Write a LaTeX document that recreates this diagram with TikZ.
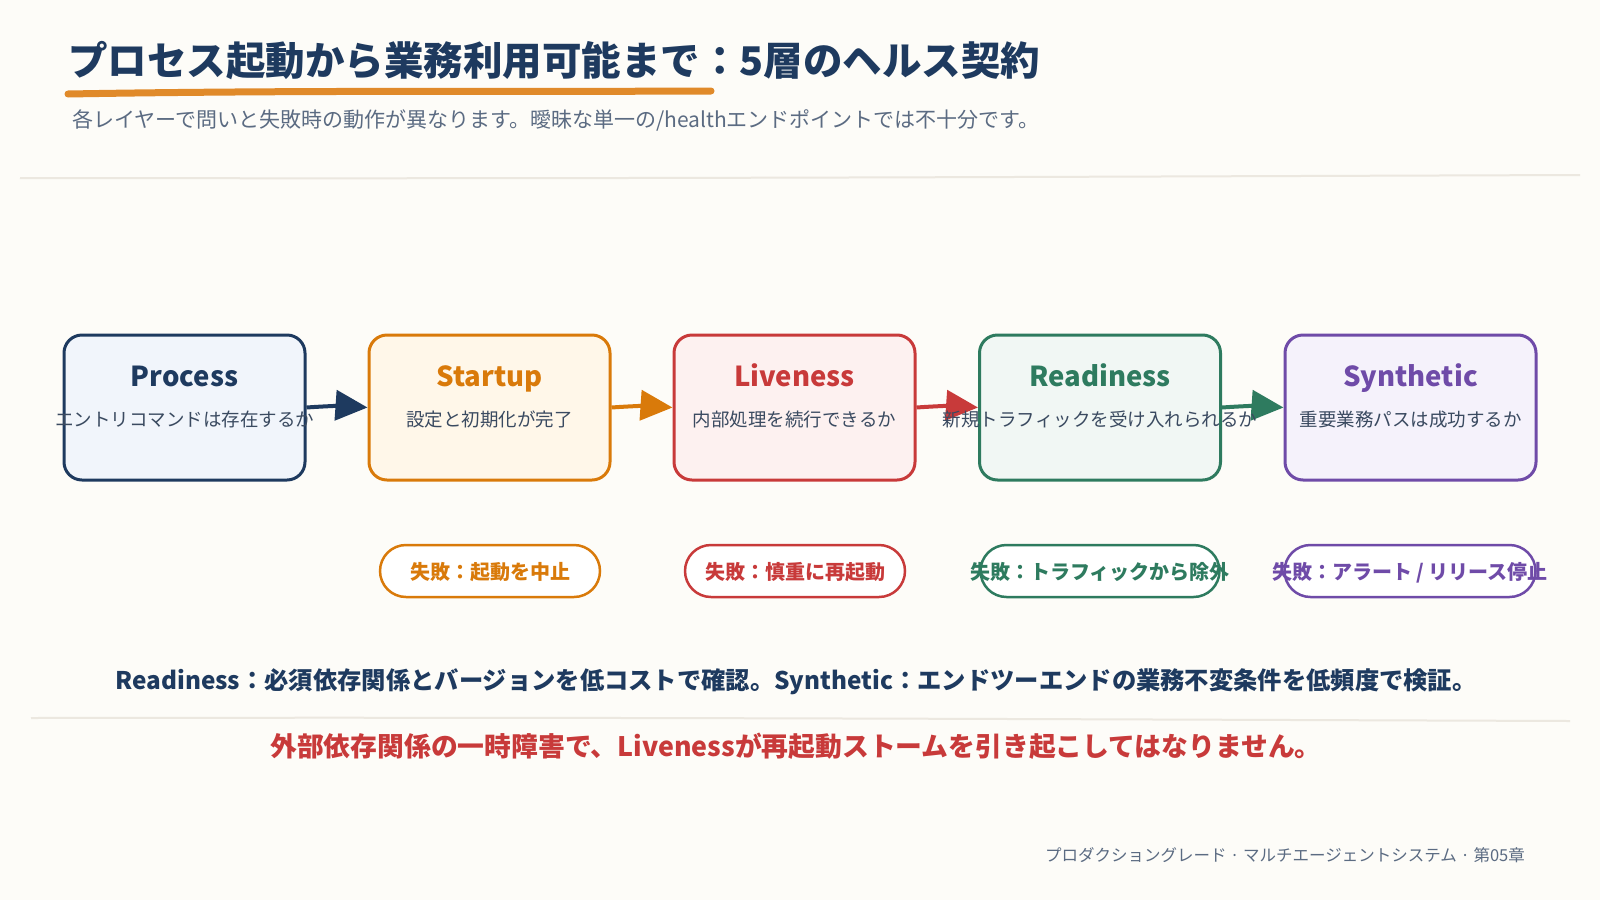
\documentclass[tikz,border=0pt]{standalone}
\usepackage{fontspec}
\setmainfont{Noto Sans CJK JP}
\usetikzlibrary{arrows.meta}
\definecolor{bg}{HTML}{FDFCF8}
\definecolor{navy}{HTML}{1E3A5F}
\definecolor{orng}{HTML}{D97A0A}
\definecolor{uline}{HTML}{E08A2A}
\definecolor{rred}{HTML}{C83A3A}
\definecolor{grn}{HTML}{2E7B5F}
\definecolor{purp}{HTML}{6F4BA8}
\definecolor{slate}{HTML}{5B6B82}
\definecolor{subtxt}{HTML}{3A4A60}
\definecolor{sepc}{HTML}{ECE8E0}
\definecolor{fproc}{HTML}{F1F5FB}
\definecolor{fstart}{HTML}{FFF7E9}
\definecolor{flive}{HTML}{FDF1F0}
\definecolor{fready}{HTML}{F1F7F4}
\definecolor{fsyn}{HTML}{F5F2FB}
\tikzset{
  box/.style={draw, line width=3pt, rounded corners=18pt, minimum height=145pt, inner sep=0pt},
  btitle/.style={font=\bfseries\fontsize{27.5}{30}\selectfont, text height=20pt, text depth=6pt, inner sep=0pt},
  bsub/.style={font=\fontsize{18.5}{21}\selectfont, text=subtxt, text height=14pt, text depth=4pt, inner sep=0pt},
  pill/.style={draw, line width=2.5pt, fill=white, rounded corners=26pt, minimum height=52pt, inner sep=0pt},
  ptxt/.style={font=\bfseries\fontsize{20}{22}\selectfont, text height=15pt, text depth=4pt, inner sep=0pt},
  arr/.style={line width=4pt, -{Triangle[length=32pt,width=30pt]}},
  sep/.style={draw=sepc, line width=2pt}
}
\begin{document}
\begin{tikzpicture}[x=1pt,y=-1pt]
\fill[bg] (0,0) rectangle (1600,900);
\useasboundingbox (0,0) rectangle (1600,900);

% title
\node[anchor=west, inner sep=0pt, text=navy, font=\bfseries\fontsize{39.5}{44}\selectfont] (title) at (68,61) {プロセス起動から業務利用可能まで：5層のヘルス契約};
\draw[uline, line width=7pt, line cap=round] (68,94) .. controls (300,90) and (500,92) .. (711,91);
\node[anchor=west, inner sep=0pt, text=slate, font=\fontsize{21}{24}\selectfont] (subtitle) at (72,120) {各レイヤーで問いと失敗時の動作が異なります。曖昧な単一の/healthエンドポイントでは不十分です。};
\draw[sep] (20,178) .. controls (600,179) and (1000,177) .. (1580,175);

% boxes
\node[box, draw=navy, fill=fproc, minimum width=241pt] (p) at (184.5,407.5) {};
\node[box, draw=orng, fill=fstart, minimum width=241pt] (s) at (489.5,407.5) {};
\node[box, draw=rred, fill=flive, minimum width=241pt] (l) at (794.5,407.5) {};
\node[box, draw=grn, fill=fready, minimum width=241pt] (r) at (1100,407.5) {};
\node[box, draw=purp, fill=fsyn, minimum width=251pt] (y) at (1410.5,407.5) {};

\node[btitle, text=navy] (pt) at (184.5,379) {Process};
\node[btitle, text=orng] (st) at (489.5,379) {Startup};
\node[btitle, text=rred] (lt) at (794.5,379) {Liveness};
\node[btitle, text=grn] (rt) at (1100,379) {Readiness};
\node[btitle, text=purp] (yt) at (1410.5,379) {Synthetic};

% arrows
\draw[arr, navy] (p.east) to[bend left=4] (s.west);
\draw[arr, orng] (s.east) to[bend left=4] (l.west);
\draw[arr, rred] (l.east) to[bend left=4] (r.west);
\draw[arr, grn] (r.east) to[bend left=4] (y.west);

\node[bsub] (ps) at (184.5,421) {エントリコマンドは存在するか};
\node[bsub] (ss) at (489.5,421) {設定と初期化が完了};
\node[bsub] (ls) at (794.5,421) {内部処理を続行できるか};
\node[bsub] (rs) at (1100,421) {新規トラフィックを受け入れられるか};
\node[bsub] (ys) at (1410.5,421) {重要業務パスは成功するか};

% failure pills
\node[pill, draw=orng, minimum width=220pt] (sp) at (490,571) {};
\node[pill, draw=rred, minimum width=220pt] (lp) at (795,571) {};
\node[pill, draw=grn, minimum width=239pt] (rp) at (1100,571) {};
\node[pill, draw=purp, minimum width=251pt] (yp) at (1410,571) {};
\node[ptxt, text=orng] (spt) at (490,574) {失敗：起動を中止};
\node[ptxt, text=rred] (lpt) at (795,574) {失敗：慎重に再起動};
\node[ptxt, text=grn] (rpt) at (1100,574) {失敗：トラフィックから除外};
\node[ptxt, text=purp] (ypt) at (1410,574) {失敗：アラート / リリース停止};

% bottom notes
\node[text=navy, font=\bfseries\fontsize{24.3}{28}\selectfont] (note) at (796,682) {Readiness：必須依存関係とバージョンを低コストで確認。Synthetic：エンドツーエンドの業務不変条件を低頻度で検証。};
\draw[sep] (31,718) .. controls (600,717) and (1000,719) .. (1570,721);
\node[text=rred, font=\bfseries\fontsize{26.8}{30}\selectfont] (warn) at (796,746) {外部依存関係の一時障害で、Livenessが再起動ストームを引き起こしてはなりません。};

\node[anchor=east, inner sep=0pt, text=slate, font=\fontsize{16.5}{20}\selectfont] (footer) at (1525,855) {プロダクショングレード · マルチエージェントシステム · 第05章};
\end{tikzpicture}
\end{document}
